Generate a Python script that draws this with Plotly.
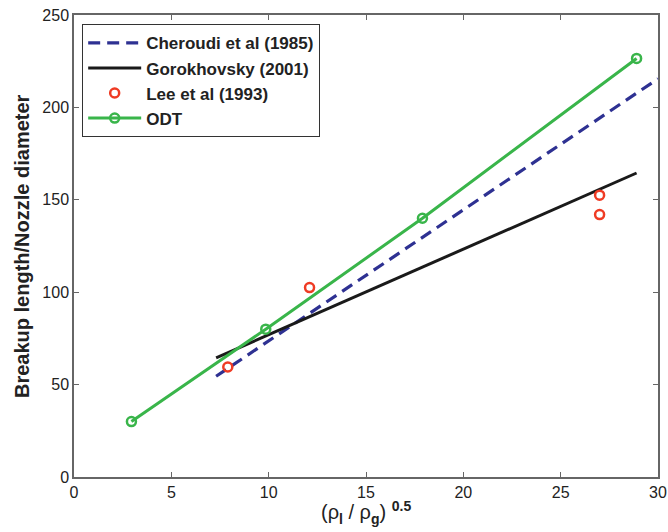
import plotly.graph_objects as go

odt_x = [2.95, 9.85, 17.9, 28.9]
odt_y = [30, 80, 140, 226.5]
lee_x = [7.9, 12.1, 27.0, 27.0]
lee_y = [59.5, 102.5, 152.5, 142]
cher_x = [7.3, 30.0]
cher_y = [54.5, 215.5]
goro_x = [7.3, 28.9]
goro_y = [64.5, 164.5]

x_ticks = [0, 5, 10, 15, 20, 25, 30]
y_ticks = [0, 50, 100, 150, 200, 250]

FONT = "Liberation Sans, Arial, sans-serif"

fig = go.Figure()
fig.add_trace(go.Scatter(x=cher_x, y=cher_y, mode="lines", name="Cheroudi et al (1985)",
                         line=dict(color="#2e3192", width=3.2, dash="12px,7px")))
fig.add_trace(go.Scatter(x=goro_x, y=goro_y, mode="lines", name="Gorokhovsky (2001)",
                         line=dict(color="#1a1a1a", width=3)))
fig.add_trace(go.Scatter(x=lee_x, y=lee_y, mode="markers", name="Lee et al (1993)",
                         marker=dict(symbol="circle-open", size=9, color="#ef3b24",
                                     line=dict(width=2.5, color="#ef3b24"))))
fig.add_trace(go.Scatter(x=odt_x, y=odt_y, mode="lines+markers", name="ODT",
                         line=dict(color="#39b54a", width=3),
                         marker=dict(symbol="circle-open", size=9, color="#39b54a",
                                     line=dict(width=2.5, color="#39b54a"))))

axis_common = dict(showline=True, linecolor="#666666", linewidth=1.5, mirror="ticks",
                   ticks="inside", ticklen=5, tickcolor="#666666", showgrid=False,
                   zeroline=False, automargin=False,
                   tickfont=dict(family=FONT, size=16, color="#222"))

fig.update_xaxes(range=[0, 30], tickvals=x_ticks, **axis_common)
fig.update_yaxes(range=[0, 250], tickvals=y_ticks, **axis_common)

fig.add_annotation(text="<b>Breakup length/Nozzle diameter</b>", textangle=-90,
                   xref="paper", yref="paper", x=-0.089, y=0.5,
                   xanchor="center", yanchor="middle", showarrow=False,
                   font=dict(family=FONT, size=20, color="#222"))
fig.add_annotation(text="(ρ<sub><b>l</b></sub> / ρ<sub><b>g</b></sub>) <sup><b>0.5</b></sup>",
                   xref="paper", yref="paper", x=0.5, y=-0.076,
                   xanchor="center", yanchor="middle", showarrow=False,
                   font=dict(family=FONT, size=20, color="#222"))

fig.update_layout(
    width=668, height=532,
    margin=dict(l=74, r=10, t=15, b=55),
    plot_bgcolor="white", paper_bgcolor="white",
    legend=dict(x=0.014, y=0.98, xanchor="left", yanchor="top",
                bordercolor="#333", borderwidth=1, bgcolor="white",
                font=dict(family=FONT, size=17, color="#222", weight="bold"),
                itemwidth=53, tracegroupgap=0),
)

fig.write_html("out.html", config={"displayModeBar": False},
               post_script="document.body.style.margin='0';")
